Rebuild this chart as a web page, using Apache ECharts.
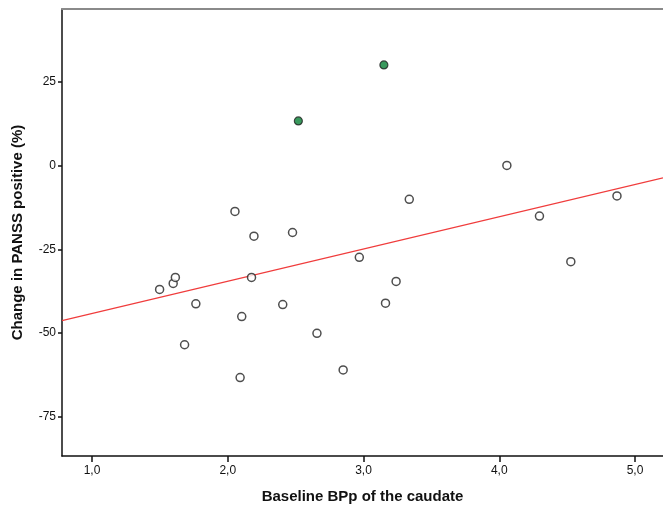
<!DOCTYPE html>
<html>
<head>
<meta charset="utf-8">
<script src="https://cdn.jsdelivr.net/npm/echarts@6/dist/echarts.min.js"></script>
<style>
html,body{margin:0;padding:0;background:#fff;}
#chart{width:663px;height:509px;}
</style>
</head>
<body>
<div id="chart"></div>
<script>
// Open circles: baseline BPp (x) and change in PANSS positive % (y)
var openX = [4.056, 3.337, 2.053, 4.296, 4.867, 2.193, 2.477, 2.969, 4.527, 1.498, 1.598, 1.614, 2.175, 1.765, 2.405, 3.162, 3.240, 2.103, 2.657, 1.682, 2.850, 2.091];
var openY = [0.0, -10.1, -13.7, -15.1, -9.1, -21.1, -20.0, -27.4, -28.7, -37.0, -35.2, -33.4, -33.4, -41.3, -41.5, -41.1, -34.6, -45.1, -50.1, -53.5, -61.0, -63.3];
// Highlighted (green) points
var greenX = [3.15, 2.52];
var greenY = [30.0, 13.3];
// Fit line endpoints
var fitX = [0.779, 5.206];
var fitY = [-46.3, -3.7];
// Axis ticks
var xTicks = [1, 2, 3, 4, 5];
var yTicks = [-75, -50, -25, 0, 25];

function pairs(xs, ys){ return xs.map(function(x,i){ return [x, ys[i]]; }); }

var chart = echarts.init(document.getElementById('chart'));
var labelFont = {fontFamily: 'Liberation Sans, Arial, sans-serif', fontSize: 12, color: '#111'};
chart.setOption({
  animation: false,
  backgroundColor: '#fff',
  grid: {left: 62, top: 9, right: 0, bottom: 52, containLabel: false},
  xAxis: [{
    type: 'value', min: 0.779, max: 5.206,
    name: 'Baseline BPp of the caudate', nameLocation: 'middle', nameGap: 33,
    nameTextStyle: {fontFamily: 'Liberation Sans, Arial, sans-serif', fontSize: 15, fontWeight: 'bold', color: '#111'},
    axisLine: {show: true, onZero: false, lineStyle: {color: '#111', width: 1.5}},
    axisTick: {show: true, length: 6, customValues: xTicks, lineStyle: {color: '#111', width: 1.5}},
    axisLabel: Object.assign({customValues: xTicks, margin: 9, formatter: function(v){ return v.toFixed(1).replace('.', ','); }}, labelFont),
    splitLine: {show: false}
  }, {
    type: 'value', position: 'top', min: 0.779, max: 5.206,
    axisLine: {show: true, onZero: false, lineStyle: {color: '#8a8a8a', width: 2}},
    axisTick: {show: false}, axisLabel: {show: false}, splitLine: {show: false}
  }],
  yAxis: {
    type: 'value', min: -86.7, max: 46.7,
    name: 'Change in PANSS positive (%)', nameLocation: 'middle', nameGap: 37,
    nameTextStyle: {fontFamily: 'Liberation Sans, Arial, sans-serif', fontSize: 15, fontWeight: 'bold', color: '#111'},
    axisLine: {show: true, onZero: false, lineStyle: {color: '#111', width: 1.5}},
    axisTick: {show: true, length: 4, customValues: yTicks, lineStyle: {color: '#111', width: 1.5}},
    axisLabel: Object.assign({customValues: yTicks, margin: 6}, labelFont),
    splitLine: {show: false}
  },
  series: [{
    type: 'line', data: pairs(fitX, fitY), symbol: 'none',
    lineStyle: {color: '#f03c3c', width: 1.2}, silent: true, z: 1
  }, {
    type: 'scatter', data: pairs(openX, openY), symbol: 'circle', symbolSize: 8,
    itemStyle: {color: '#ffffff', borderColor: '#222', borderWidth: 1.5}, z: 3
  }, {
    type: 'scatter', data: pairs(greenX, greenY), symbol: 'circle', symbolSize: 8,
    itemStyle: {color: '#078034', borderColor: '#222', borderWidth: 1.2}, z: 3
  }]
});
</script>
</body>
</html>
